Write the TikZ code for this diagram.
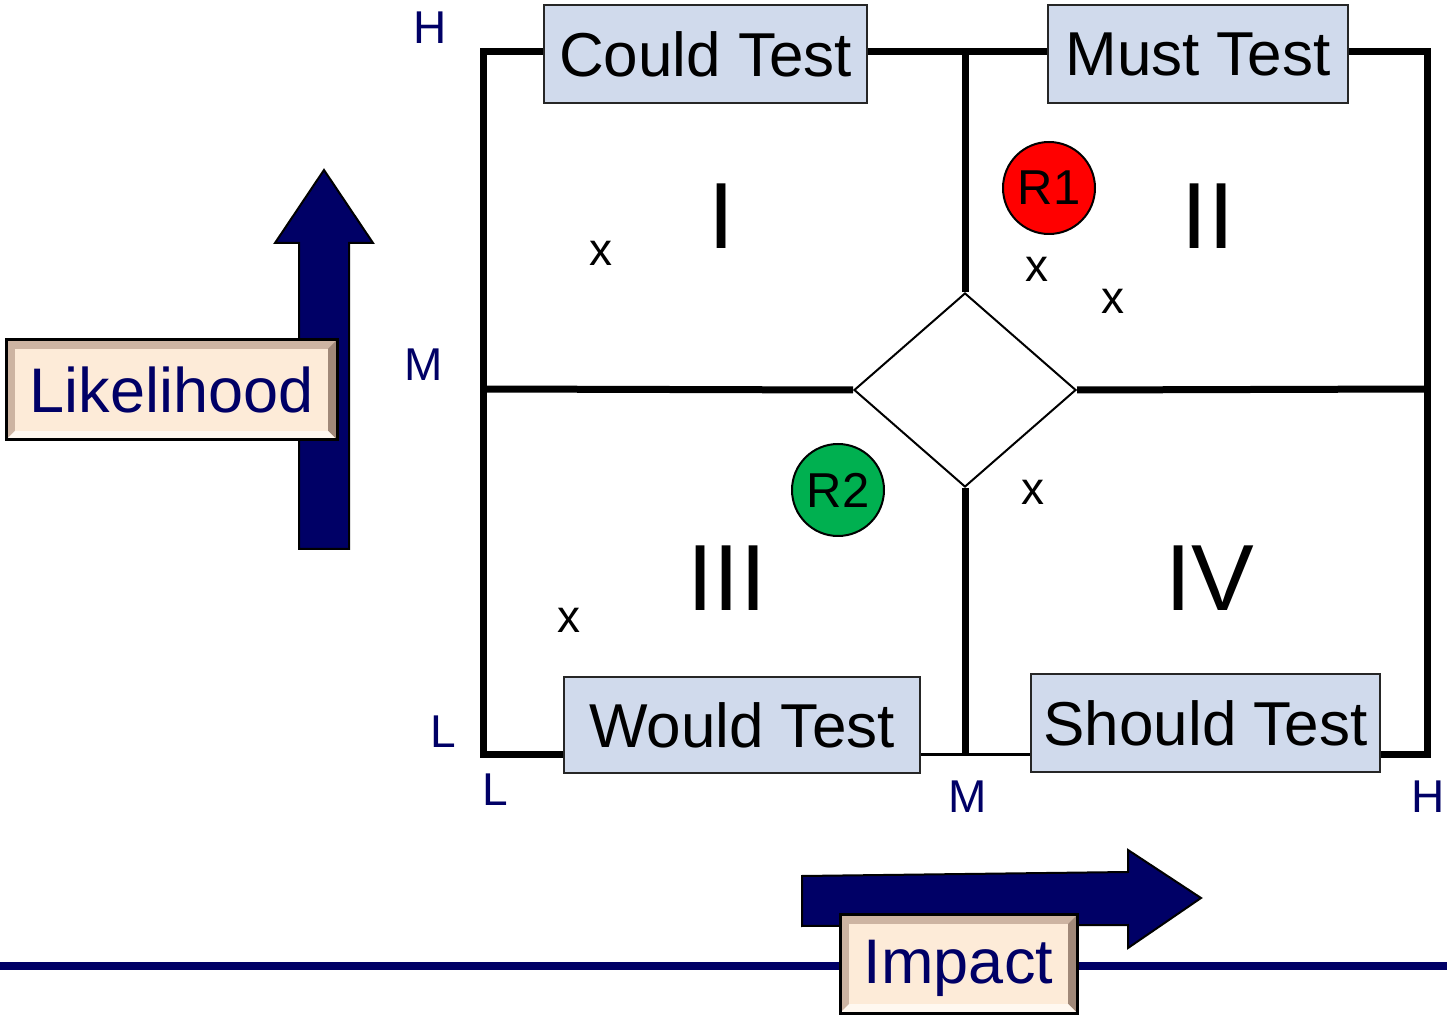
\documentclass[tikz,border=0pt]{standalone}
\usepackage{fontspec}
\setmainfont{Liberation Sans}
\usetikzlibrary{shapes.geometric}
\definecolor{navy}{RGB}{0,0,102}
\definecolor{boxblue}{RGB}{208,218,236}
\definecolor{cream}{RGB}{253,235,216}
\definecolor{bevelmid}{RGB}{205,180,162}
\definecolor{beveldark}{RGB}{160,136,120}
\definecolor{bevellight}{RGB}{255,248,240}
\definecolor{riskred}{RGB}{255,0,0}
\definecolor{riskgreen}{RGB}{0,176,80}

\begin{document}
\begin{tikzpicture}[x=0.5pt, y=-0.5pt,
  frame/.style={line width=3.5pt},
  thinframe/.style={line width=1.5pt},
  testbox/.style={draw=black!85, line width=1pt, fill=boxblue, inner sep=0pt,
    font=\fontsize{31}{31}\selectfont},
  level/.style={text=navy, inner sep=0pt, font=\fontsize{23}{23}\selectfont},
  numeral/.style={inner sep=0pt, font=\fontsize{47}{47}\selectfont},
  xmark/.style={inner sep=0pt, font=\fontsize{23}{23}\selectfont},
  risk/.style={circle, draw=black, line width=1pt, minimum size=46pt, inner sep=0pt,
    font=\fontsize{24.5}{24.5}\selectfont},
  bigarrow/.style={fill=navy, draw=black, line width=1pt},
  axisbox/.style={draw=black, line width=1.5pt, fill=bevelmid, inner sep=0pt, text=navy,
    font=\fontsize{31.5}{31.5}\selectfont,
    path picture={
      \fill[beveldark] (path picture bounding box.north east) -- ([shift={(-9,9)}]path picture bounding box.north east)
        -- ([shift={(-9,-9)}]path picture bounding box.south east) -- (path picture bounding box.south east) -- cycle;
      \fill[bevellight] (path picture bounding box.south west) -- ([shift={(9,-9)}]path picture bounding box.south west)
        -- ([shift={(-9,-9)}]path picture bounding box.south east) -- (path picture bounding box.south east) -- cycle;
      \fill[cream] ([shift={(9,9)}]path picture bounding box.north west)
        rectangle ([shift={(-9,-9)}]path picture bounding box.south east);}}]
  \useasboundingbox (0,0) rectangle (1447,1015);

  % axis arrows and base line
  \draw[bigarrow] (299,549) -- (299,243) -- (275,243) -- (324,170) -- (373,243)
    -- (349,243) -- (349,549) -- cycle;
  \draw[bigarrow] (802,876) -- (1128,872) -- (1128,850) -- (1201,898) -- (1128,948)
    -- (1128,925) -- (802,926) -- cycle;
  \coordinate (baseL) at (0,966);
  \coordinate (baseR) at (1447,966);
  \draw[navy, line width=4pt] (baseL) -- (baseR);

  % grid corners
  \coordinate (tl) at (483,52);
  \coordinate (tr) at (1427,52);
  \coordinate (bl) at (483,755);
  \coordinate (br) at (1427,755);
  \coordinate (tm) at (965,52);
  \coordinate (bm) at (965,755);
  \coordinate (ml) at (483,389);
  \coordinate (mr) at (1427,389);

  \node[diamond, draw, line width=1pt, fill=white, minimum width=111pt, minimum height=97pt,
    inner sep=0pt] (dia) at (965,390) {};

  \node[testbox, minimum width=161.5pt, minimum height=49pt] (could) at (705.5,54) {Could Test};
  \node[testbox, minimum width=150pt, minimum height=49pt] (must) at (1198,54) {Must Test};
  \node[testbox, minimum width=178pt, minimum height=48pt] (would) at (742,725) {Would Test};
  \node[testbox, minimum width=174.5pt, minimum height=49pt] (should) at (1205.5,723) {Should Test};

  % frame
  \draw[frame] (would.west |- bl) -- (bl) -- (tl) -- (could.west |- tl);
  \draw[frame] (could.east |- tl) -- (must.west |- tl);
  \draw[frame] (must.east |- tr) -- (tr) -- (br) -- (should.east |- br);
  \draw[thinframe] (would.east |- bl) -- (should.west |- bl);
  \draw[frame] (tm) -- (dia.north);
  \draw[frame] (dia.south) -- (bm);
  \draw[frame] (ml) -- (dia.west);
  \draw[frame] (dia.east) -- (mr);

  % axis labels
  \node[axisbox, minimum width=165.5pt, minimum height=50pt] (lik) at (171.5,390) {Likelihood};
  \node[axisbox, minimum width=118.5pt, minimum height=49pt, text depth=2pt] (imp) at (958.5,964) {Impact};

  \node[level] (yh) at (430,28) {H};
  \node[level] (ym) at (424,365) {M};
  \node[level] (yl) at (443,732) {L};
  \node[level] (xl) at (495,790) {L};
  \node[level] (xm) at (968,797) {M};
  \node[level] (xh) at (1428,797) {H};

  % quadrants
  \node[numeral] (q1) at (722,216) {I};
  \node[numeral] (q2) at (1208,216) {II};
  \node[numeral] (q3) at (727,578) {III};
  \node[numeral] (q4) at (1210,578) {IV};

  \node[xmark] (xa) at (601,253) {x};
  \node[xmark] (xb) at (1037,269) {x};
  \node[xmark] (xc) at (1113,301) {x};
  \node[xmark] (xd) at (1033,492) {x};
  \node[xmark] (xe) at (569,620) {x};

  \node[risk, fill=riskred] (r1) at (1049,188) {R1};
  \node[risk, fill=riskgreen] (r2) at (838,490) {R2};
\end{tikzpicture}
\end{document}
